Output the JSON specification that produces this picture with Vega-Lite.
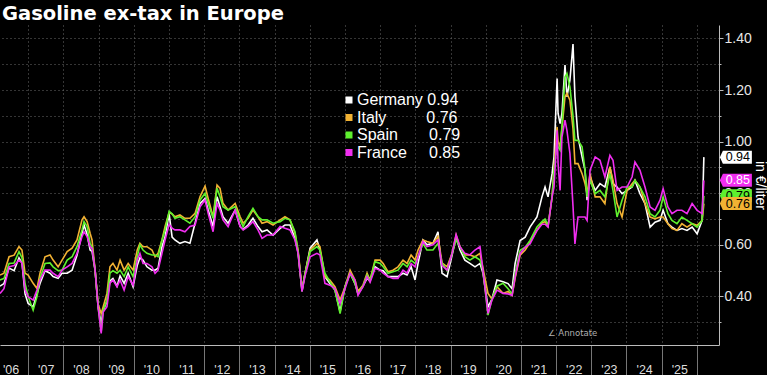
{
  "$schema": "https://vega.github.io/schema/vega-lite/v6.json",
  "width": 719,
  "height": 320,
  "autosize": {"type": "none"},
  "padding": {"left": 0, "top": 25, "right": 48, "bottom": 30},
  "background": "#000000",
  "title": {"text": "Gasoline ex-tax in Europe", "anchor": "start", "frame": "group", "color": "#ffffff", "font": "DejaVu Sans", "fontSize": 19.5, "fontWeight": "bold", "offset": 1, "dx": 2},
  "datasets": {
    "prices": [
      {"date":"2006-03-15","Germany":0.44,"Italy":0.483,"Spain":0.464,"France":0.412},
      {"date":"2006-04-25","Germany":0.45,"Italy":0.49,"Spain":0.47,"France":0.43},
      {"date":"2006-06-17","Germany":0.51,"Italy":0.554,"Spain":0.528,"France":0.515},
      {"date":"2006-08-08","Germany":0.50,"Italy":0.56,"Spain":0.53,"France":0.52},
      {"date":"2006-09-28","Germany":0.55,"Italy":0.593,"Spain":0.574,"France":0.541},
      {"date":"2006-10-29","Germany":0.53,"Italy":0.58,"Spain":0.55,"France":0.53},
      {"date":"2006-11-30","Germany":0.41,"Italy":0.49,"Spain":0.451,"France":0.425},
      {"date":"2007-01-01","Germany":0.373,"Italy":0.483,"Spain":0.40,"France":0.399},
      {"date":"2007-02-22","Germany":0.36,"Italy":0.451,"Spain":0.347,"France":0.386},
      {"date":"2007-04-03","Germany":0.41,"Italy":0.431,"Spain":0.40,"France":0.425},
      {"date":"2007-05-04","Germany":0.45,"Italy":0.49,"Spain":0.47,"France":0.464},
      {"date":"2007-06-25","Germany":0.50,"Italy":0.554,"Spain":0.528,"France":0.502},
      {"date":"2007-08-16","Germany":0.49,"Italy":0.561,"Spain":0.53,"France":0.502},
      {"date":"2007-09-17","Germany":0.477,"Italy":0.541,"Spain":0.515,"France":0.49},
      {"date":"2007-11-08","Germany":0.47,"Italy":0.515,"Spain":0.50,"France":0.477},
      {"date":"2007-12-19","Germany":0.49,"Italy":0.541,"Spain":0.502,"France":0.502},
      {"date":"2008-02-10","Germany":0.49,"Italy":0.574,"Spain":0.541,"France":0.515},
      {"date":"2008-04-01","Germany":0.502,"Italy":0.587,"Spain":0.554,"France":0.528},
      {"date":"2008-05-22","Germany":0.56,"Italy":0.619,"Spain":0.593,"France":0.567},
      {"date":"2008-07-13","Germany":0.645,"Italy":0.697,"Spain":0.658,"France":0.632},
      {"date":"2008-08-03","Germany":0.677,"Italy":0.709,"Spain":0.69,"France":0.651},
      {"date":"2008-09-04","Germany":0.64,"Italy":0.69,"Spain":0.671,"France":0.632},
      {"date":"2008-10-05","Germany":0.58,"Italy":0.645,"Spain":0.606,"France":0.593},
      {"date":"2008-10-25","Germany":0.575,"Italy":0.619,"Spain":0.593,"France":0.587},
      {"date":"2008-11-26","Germany":0.50,"Italy":0.502,"Spain":0.502,"France":0.502},
      {"date":"2008-12-27","Germany":0.36,"Italy":0.37,"Spain":0.36,"France":0.36},
      {"date":"2009-01-28","Germany":0.295,"Italy":0.334,"Spain":0.263,"France":0.257},
      {"date":"2009-02-18","Germany":0.347,"Italy":0.36,"Spain":0.347,"France":0.34},
      {"date":"2009-03-29","Germany":0.38,"Italy":0.412,"Spain":0.386,"France":0.36},
      {"date":"2009-04-29","Germany":0.46,"Italy":0.515,"Spain":0.49,"France":0.451},
      {"date":"2009-05-30","Germany":0.47,"Italy":0.528,"Spain":0.50,"France":0.464},
      {"date":"2009-07-11","Germany":0.44,"Italy":0.502,"Spain":0.49,"France":0.438},
      {"date":"2009-08-12","Germany":0.48,"Italy":0.541,"Spain":0.502,"France":0.464},
      {"date":"2009-09-23","Germany":0.451,"Italy":0.502,"Spain":0.477,"France":0.425},
      {"date":"2009-11-04","Germany":0.49,"Italy":0.528,"Spain":0.515,"France":0.477},
      {"date":"2009-12-25","Germany":0.438,"Italy":0.502,"Spain":0.477,"France":0.444},
      {"date":"2010-02-06","Germany":0.52,"Italy":0.58,"Spain":0.554,"France":0.541},
      {"date":"2010-03-06","Germany":0.55,"Italy":0.606,"Spain":0.60,"France":0.567},
      {"date":"2010-04-07","Germany":0.541,"Italy":0.593,"Spain":0.58,"France":0.528},
      {"date":"2010-05-18","Germany":0.515,"Italy":0.593,"Spain":0.567,"France":0.528},
      {"date":"2010-07-09","Germany":0.502,"Italy":0.58,"Spain":0.561,"France":0.515},
      {"date":"2010-08-10","Germany":0.502,"Italy":0.554,"Spain":0.561,"France":0.49},
      {"date":"2010-09-10","Germany":0.51,"Italy":0.567,"Spain":0.554,"France":0.502},
      {"date":"2010-10-21","Germany":0.593,"Italy":0.619,"Spain":0.619,"France":0.567},
      {"date":"2010-11-22","Germany":0.632,"Italy":0.671,"Spain":0.658,"France":0.619},
      {"date":"2011-01-03","Germany":0.72,"Italy":0.725,"Spain":0.73,"France":0.68},
      {"date":"2011-02-03","Germany":0.63,"Italy":0.72,"Spain":0.72,"France":0.665},
      {"date":"2011-03-04","Germany":0.619,"Italy":0.709,"Spain":0.703,"France":0.658},
      {"date":"2011-04-25","Germany":0.606,"Italy":0.716,"Spain":0.709,"France":0.658},
      {"date":"2011-06-16","Germany":0.613,"Italy":0.703,"Spain":0.697,"France":0.651},
      {"date":"2011-08-07","Germany":0.606,"Italy":0.703,"Spain":0.684,"France":0.671},
      {"date":"2011-09-29","Germany":0.684,"Italy":0.722,"Spain":0.709,"France":0.677},
      {"date":"2011-11-20","Germany":0.761,"Italy":0.787,"Spain":0.774,"France":0.748},
      {"date":"2012-01-11","Germany":0.78,"Italy":0.828,"Spain":0.80,"France":0.774},
      {"date":"2012-02-12","Germany":0.735,"Italy":0.78,"Spain":0.761,"France":0.722},
      {"date":"2012-04-03","Germany":0.671,"Italy":0.709,"Spain":0.703,"France":0.651},
      {"date":"2012-05-14","Germany":0.787,"Italy":0.832,"Spain":0.819,"France":0.761},
      {"date":"2012-06-14","Germany":0.748,"Italy":0.819,"Spain":0.787,"France":0.735},
      {"date":"2012-07-15","Germany":0.709,"Italy":0.761,"Spain":0.748,"France":0.697},
      {"date":"2012-09-06","Germany":0.684,"Italy":0.735,"Spain":0.735,"France":0.671},
      {"date":"2012-11-18","Germany":0.735,"Italy":0.761,"Spain":0.748,"France":0.735},
      {"date":"2013-01-09","Germany":0.671,"Italy":0.709,"Spain":0.697,"France":0.671},
      {"date":"2013-02-09","Germany":0.66,"Italy":0.684,"Spain":0.671,"France":0.658},
      {"date":"2013-04-01","Germany":0.677,"Italy":0.703,"Spain":0.709,"France":0.671},
      {"date":"2013-05-22","Germany":0.703,"Italy":0.735,"Spain":0.742,"France":0.69},
      {"date":"2013-07-13","Germany":0.671,"Italy":0.709,"Spain":0.709,"France":0.658},
      {"date":"2013-08-24","Germany":0.651,"Italy":0.684,"Spain":0.697,"France":0.625},
      {"date":"2013-10-15","Germany":0.658,"Italy":0.69,"Spain":0.697,"France":0.638},
      {"date":"2013-12-16","Germany":0.638,"Italy":0.677,"Spain":0.684,"France":0.638},
      {"date":"2014-02-28","Germany":0.664,"Italy":0.697,"Spain":0.69,"France":0.671},
      {"date":"2014-04-19","Germany":0.677,"Italy":0.709,"Spain":0.703,"France":0.664},
      {"date":"2014-06-10","Germany":0.677,"Italy":0.697,"Spain":0.697,"France":0.658},
      {"date":"2014-08-01","Germany":0.625,"Italy":0.645,"Spain":0.651,"France":0.619},
      {"date":"2014-09-02","Germany":0.57,"Italy":0.58,"Spain":0.574,"France":0.567},
      {"date":"2014-10-13","Germany":0.42,"Italy":0.43,"Spain":0.425,"France":0.42},
      {"date":"2014-11-14","Germany":0.49,"Italy":0.49,"Spain":0.49,"France":0.48},
      {"date":"2015-01-05","Germany":0.587,"Italy":0.58,"Spain":0.574,"France":0.554},
      {"date":"2015-03-17","Germany":0.619,"Italy":0.606,"Spain":0.593,"France":0.567},
      {"date":"2015-04-17","Germany":0.58,"Italy":0.593,"Spain":0.58,"France":0.561},
      {"date":"2015-06-08","Germany":0.477,"Italy":0.477,"Spain":0.49,"France":0.451},
      {"date":"2015-07-29","Germany":0.45,"Italy":0.464,"Spain":0.457,"France":0.444},
      {"date":"2015-09-20","Germany":0.425,"Italy":0.438,"Spain":0.425,"France":0.431},
      {"date":"2015-11-12","Germany":0.341,"Italy":0.386,"Spain":0.334,"France":0.373},
      {"date":"2016-01-03","Germany":0.44,"Italy":0.438,"Spain":0.438,"France":0.431},
      {"date":"2016-02-24","Germany":0.49,"Italy":0.502,"Spain":0.49,"France":0.49},
      {"date":"2016-04-15","Germany":0.45,"Italy":0.464,"Spain":0.451,"France":0.464},
      {"date":"2016-05-16","Germany":0.41,"Italy":0.42,"Spain":0.41,"France":0.405},
      {"date":"2016-07-07","Germany":0.44,"Italy":0.444,"Spain":0.44,"France":0.438},
      {"date":"2016-08-18","Germany":0.47,"Italy":0.49,"Spain":0.483,"France":0.477},
      {"date":"2016-09-18","Germany":0.46,"Italy":0.464,"Spain":0.46,"France":0.455},
      {"date":"2016-11-09","Germany":0.515,"Italy":0.541,"Spain":0.535,"France":0.509},
      {"date":"2017-01-01","Germany":0.502,"Italy":0.541,"Spain":0.528,"France":0.502},
      {"date":"2017-02-01","Germany":0.50,"Italy":0.528,"Spain":0.515,"France":0.49},
      {"date":"2017-03-23","Germany":0.477,"Italy":0.496,"Spain":0.49,"France":0.477},
      {"date":"2017-05-14","Germany":0.477,"Italy":0.502,"Spain":0.496,"France":0.47},
      {"date":"2017-07-05","Germany":0.477,"Italy":0.515,"Spain":0.502,"France":0.47},
      {"date":"2017-08-26","Germany":0.49,"Italy":0.541,"Spain":0.528,"France":0.502},
      {"date":"2017-10-07","Germany":0.483,"Italy":0.528,"Spain":0.515,"France":0.49},
      {"date":"2017-11-18","Germany":0.515,"Italy":0.561,"Spain":0.541,"France":0.528},
      {"date":"2017-12-29","Germany":0.464,"Italy":0.541,"Spain":0.528,"France":0.515},
      {"date":"2018-01-29","Germany":0.528,"Italy":0.58,"Spain":0.554,"France":0.554},
      {"date":"2018-03-21","Germany":0.619,"Italy":0.619,"Spain":0.606,"France":0.613},
      {"date":"2018-05-01","Germany":0.60,"Italy":0.613,"Spain":0.58,"France":0.593},
      {"date":"2018-07-03","Germany":0.606,"Italy":0.606,"Spain":0.58,"France":0.60},
      {"date":"2018-08-24","Germany":0.651,"Italy":0.632,"Spain":0.606,"France":0.619},
      {"date":"2018-10-05","Germany":0.49,"Italy":0.53,"Spain":0.53,"France":0.52},
      {"date":"2018-11-26","Germany":0.477,"Italy":0.515,"Spain":0.50,"France":0.502},
      {"date":"2019-01-17","Germany":0.56,"Italy":0.567,"Spain":0.567,"France":0.567},
      {"date":"2019-02-28","Germany":0.63,"Italy":0.638,"Spain":0.619,"France":0.64},
      {"date":"2019-04-09","Germany":0.58,"Italy":0.593,"Spain":0.593,"France":0.593},
      {"date":"2019-05-30","Germany":0.541,"Italy":0.561,"Spain":0.554,"France":0.567},
      {"date":"2019-07-21","Germany":0.528,"Italy":0.561,"Spain":0.541,"France":0.561},
      {"date":"2019-09-12","Germany":0.515,"Italy":0.554,"Spain":0.554,"France":0.58},
      {"date":"2019-11-03","Germany":0.528,"Italy":0.567,"Spain":0.541,"France":0.593},
      {"date":"2019-12-04","Germany":0.49,"Italy":0.51,"Spain":0.50,"France":0.50},
      {"date":"2020-01-25","Germany":0.36,"Italy":0.412,"Spain":0.328,"France":0.334},
      {"date":"2020-03-06","Germany":0.39,"Italy":0.39,"Spain":0.39,"France":0.386},
      {"date":"2020-04-27","Germany":0.464,"Italy":0.438,"Spain":0.44,"France":0.425},
      {"date":"2020-06-29","Germany":0.457,"Italy":0.412,"Spain":0.451,"France":0.412},
      {"date":"2020-08-20","Germany":0.45,"Italy":0.42,"Spain":0.43,"France":0.41},
      {"date":"2020-10-01","Germany":0.43,"Italy":0.404,"Spain":0.41,"France":0.404},
      {"date":"2020-11-01","Germany":0.527,"Italy":0.47,"Spain":0.488,"France":0.475},
      {"date":"2020-12-23","Germany":0.617,"Italy":0.56,"Spain":0.579,"France":0.566},
      {"date":"2021-02-14","Germany":0.63,"Italy":0.58,"Spain":0.591,"France":0.591},
      {"date":"2021-04-05","Germany":0.669,"Italy":0.61,"Spain":0.617,"France":0.604},
      {"date":"2021-06-16","Germany":0.708,"Italy":0.656,"Spain":0.669,"France":0.656},
      {"date":"2021-08-07","Germany":0.786,"Italy":0.685,"Spain":0.69,"France":0.68},
      {"date":"2021-09-08","Germany":0.824,"Italy":0.69,"Spain":0.70,"France":0.68},
      {"date":"2021-10-09","Germany":0.786,"Italy":0.672,"Spain":0.676,"France":0.669},
      {"date":"2021-11-20","Germany":0.876,"Italy":0.786,"Spain":0.786,"France":0.786},
      {"date":"2021-12-10","Germany":0.941,"Italy":0.90,"Spain":0.889,"France":0.824},
      {"date":"2022-01-11","Germany":1.245,"Italy":1.057,"Spain":1.005,"France":1.044},
      {"date":"2022-01-21","Germany":1.109,"Italy":1.0,"Spain":0.98,"France":0.915},
      {"date":"2022-02-11","Germany":1.07,"Italy":0.98,"Spain":0.967,"France":0.811},
      {"date":"2022-03-02","Germany":1.109,"Italy":1.05,"Spain":1.057,"France":1.018},
      {"date":"2022-04-03","Germany":1.297,"Italy":1.174,"Spain":1.251,"France":1.083},
      {"date":"2022-04-23","Germany":1.174,"Italy":1.187,"Spain":1.264,"France":1.044},
      {"date":"2022-05-24","Germany":1.238,"Italy":1.161,"Spain":1.212,"France":0.954},
      {"date":"2022-06-25","Germany":1.378,"Italy":1.05,"Spain":1.10,"France":0.75},
      {"date":"2022-07-15","Germany":1.174,"Italy":0.915,"Spain":1.005,"France":0.604},
      {"date":"2022-08-16","Germany":1.018,"Italy":0.915,"Spain":1.005,"France":0.708},
      {"date":"2022-09-27","Germany":0.941,"Italy":0.876,"Spain":0.98,"France":0.708},
      {"date":"2022-10-28","Germany":0.889,"Italy":0.837,"Spain":0.889,"France":0.708},
      {"date":"2022-11-18","Germany":0.773,"Italy":0.80,"Spain":0.786,"France":0.695},
      {"date":"2022-12-19","Germany":0.863,"Italy":0.876,"Spain":0.85,"France":0.889},
      {"date":"2023-02-10","Germany":0.811,"Italy":0.786,"Spain":0.798,"France":0.941},
      {"date":"2023-04-01","Germany":0.837,"Italy":0.786,"Spain":0.811,"France":0.928},
      {"date":"2023-05-22","Germany":0.824,"Italy":0.76,"Spain":0.786,"France":0.863},
      {"date":"2023-07-13","Germany":0.902,"Italy":0.902,"Spain":0.876,"France":0.947},
      {"date":"2023-08-14","Germany":0.837,"Italy":0.85,"Spain":0.811,"France":0.928},
      {"date":"2023-09-25","Germany":0.824,"Italy":0.76,"Spain":0.708,"France":0.811},
      {"date":"2023-11-16","Germany":0.798,"Italy":0.708,"Spain":0.773,"France":0.824},
      {"date":"2024-01-07","Germany":0.811,"Italy":0.811,"Spain":0.824,"France":0.824},
      {"date":"2024-02-28","Germany":0.824,"Italy":0.837,"Spain":0.824,"France":0.863},
      {"date":"2024-03-29","Germany":0.85,"Italy":0.85,"Spain":0.85,"France":0.921},
      {"date":"2024-05-20","Germany":0.798,"Italy":0.824,"Spain":0.824,"France":0.889},
      {"date":"2024-07-11","Germany":0.76,"Italy":0.76,"Spain":0.786,"France":0.824},
      {"date":"2024-09-02","Germany":0.669,"Italy":0.708,"Spain":0.721,"France":0.747},
      {"date":"2024-10-23","Germany":0.688,"Italy":0.701,"Spain":0.708,"France":0.734},
      {"date":"2024-12-14","Germany":0.695,"Italy":0.708,"Spain":0.734,"France":0.773},
      {"date":"2025-01-15","Germany":0.734,"Italy":0.708,"Spain":0.786,"France":0.818},
      {"date":"2025-03-06","Germany":0.682,"Italy":0.682,"Spain":0.721,"France":0.747},
      {"date":"2025-04-17","Germany":0.669,"Italy":0.663,"Spain":0.695,"France":0.721},
      {"date":"2025-06-08","Germany":0.656,"Italy":0.656,"Spain":0.682,"France":0.734},
      {"date":"2025-07-29","Germany":0.663,"Italy":0.682,"Spain":0.708,"France":0.734},
      {"date":"2025-09-20","Germany":0.656,"Italy":0.669,"Spain":0.695,"France":0.721},
      {"date":"2025-11-12","Germany":0.669,"Italy":0.682,"Spain":0.682,"France":0.76},
      {"date":"2026-01-03","Germany":0.643,"Italy":0.676,"Spain":0.669,"France":0.734},
      {"date":"2026-02-24","Germany":0.695,"Italy":0.695,"Spain":0.695,"France":0.721},
      {"date":"2026-03-14","Germany":0.94,"Italy":0.76,"Spain":0.79,"France":0.85}
    ],
    "latest": [
      {"date":"2026-03-14","country":"Germany","value":0.94},
      {"date":"2026-03-14","country":"Spain","value":0.79},
      {"date":"2026-03-14","country":"France","value":0.85},
      {"date":"2026-03-14","country":"Italy","value":0.76}
    ],
    "notes": [
      {"date":"2021-10-09","value":0.26,"note":"∠  Annotate"}
    ]
  },
  "encoding": {
    "x": {
      "field": "date", "type": "temporal",
      "scale": {"domain": [{"year": 2006, "month": 3, "date": 15}, {"year": 2026, "month": 8, "date": 18}], "nice": false},
      "axis": {
        "title": null,
        "tickCount": {"interval": "year", "step": 1},
        "labelExpr": "\"'\" + substring(toString(year(datum.value) - 1), 2)",
        "labelOffset": -17.6,
        "labelAlign": "center",
        "labelBaseline": "top",
        "labelFlush": false,
        "labelOverlap": false,
        "labelSeparation": 0,
        "labelBound": false,
        "labelPadding": -12,
        "labelColor": "#dddddd",
        "labelFont": "Liberation Sans",
        "labelFontSize": 12.5,
        "ticks": true,
        "tickSize": 30,
        "tickColor": "#777777",
        "tickWidth": 1,
        "domainColor": "#bbbbbb",
        "domainWidth": 1,
        "grid": true,
        "gridColor": "#6a6a6a",
        "gridDash": [1, 3],
        "gridWidth": 1
      }
    },
    "y": {
      "field": "value", "type": "quantitative",
      "scale": {"domain": [0.212, 1.452], "nice": false, "zero": false},
      "axis": {
        "orient": "right",
        "title": "in €/liter",
        "titleColor": "#ffffff",
        "titleFont": "Liberation Sans",
        "titleFontSize": 14,
        "titleFontWeight": "normal",
        "titlePadding": 1,
        "values": [0.3, 0.4, 0.5, 0.6, 0.7, 0.8, 0.9, 1.0, 1.1, 1.2, 1.3, 1.4],
        "labelExpr": "round(datum.value * 10) % 2 == 0 ? format(datum.value, '.2f') : ''",
        "labelOverlap": false,
        "labelColor": "#e6e6e6",
        "labelFont": "Liberation Sans",
        "labelFontSize": 14,
        "labelPadding": 1,
        "tickSize": {"condition": {"test": "round(datum.value * 10) % 2 == 0", "value": 4}, "value": 2},
        "tickColor": "#bbbbbb",
        "domainColor": "#bbbbbb",
        "grid": true,
        "gridColor": "#6a6a6a",
        "gridDash": [1, 3],
        "gridWidth": 1
      }
    },
    "color": {
      "field": "country", "type": "nominal",
      "scale": {"domain": ["Germany", "Italy", "Spain", "France"], "range": ["#ffffff", "#f2b233", "#5ef02e", "#f02ef0"]},
      "legend": {
        "orient": "none",
        "legendX": 341,
        "legendY": 67,
        "title": null,
        "direction": "vertical",
        "padding": 0,
        "labelColor": "#ffffff",
        "labelFont": "Liberation Sans",
        "labelFontSize": 16,
        "labelLimit": 300,
        "labelOffset": 0,
        "rowPadding": 1.5,
        "symbolType": "square",
        "symbolSize": 49,
        "symbolStrokeWidth": 0,
        "labelExpr": "datum.label == 'Germany' ? 'Germany\u00a00.94' : datum.label == 'Italy' ? 'Italy\u00a0\u00a0\u00a0\u00a0\u00a0\u00a0\u00a0\u00a0\u00a00.76' : datum.label == 'Spain' ? 'Spain\u00a0\u00a0\u00a0\u00a0\u00a0\u00a0\u00a00.79' : 'France\u00a0\u00a0\u00a0\u00a0\u00a00.85'",
        "encode": {"symbols": {"update": {"fill": {"scale": "color", "field": "value"}, "fillOpacity": {"value": 1}, "strokeWidth": {"value": 0}}}}
      }
    }
  },
  "layer": [
    {
      "data": {"name": "prices"},
      "transform": [{"fold": ["Germany", "Italy", "Spain", "France"], "as": ["country", "value"]}],
      "mark": {"type": "line", "strokeWidth": 1.6, "clip": true}
    },
    {
      "data": {"name": "latest"},
      "transform": [{"filter": "datum.country != 'Italy'"}],
      "mark": {"type": "point", "filled": true, "opacity": 1, "strokeWidth": 0, "size": 64, "clip": false, "shape": "M 4 0 L 4.75 -1.625 L 12 -1.625 L 12 1.625 L 4.75 1.625 Z"}
    },
    {
      "data": {"name": "latest"},
      "transform": [{"filter": "datum.country != 'Italy'"}],
      "mark": {"type": "text", "dx": 34, "align": "center", "baseline": "middle", "font": "Liberation Sans", "fontSize": 12.5, "clip": false},
      "encoding": {
        "text": {"field": "value", "type": "quantitative", "format": ".2f"},
        "color": {"condition": {"test": "datum.country == 'France'", "value": "#ffffff"}, "value": "#000000"}
      }
    },
    {
      "data": {"name": "latest"},
      "transform": [{"filter": "datum.country == 'Italy'"}],
      "mark": {"type": "point", "filled": true, "opacity": 1, "strokeWidth": 0, "size": 64, "clip": false, "shape": "M 4 0 L 4.75 -1.625 L 12 -1.625 L 12 1.625 L 4.75 1.625 Z"}
    },
    {
      "data": {"name": "latest"},
      "transform": [{"filter": "datum.country == 'Italy'"}],
      "mark": {"type": "text", "dx": 34, "align": "center", "baseline": "middle", "font": "Liberation Sans", "fontSize": 12.5, "clip": false},
      "encoding": {
        "text": {"field": "value", "type": "quantitative", "format": ".2f"},
        "color": {"value": "#000000"}
      }
    },
    {
      "data": {"name": "notes"},
      "mark": {"type": "text", "align": "left", "baseline": "middle", "font": "DejaVu Sans", "fontSize": 8.5},
      "encoding": {
        "text": {"field": "note"},
        "color": {"value": "#b0b0b0"}
      }
    }
  ],
  "config": {
    "view": {"stroke": null},
    "font": "Liberation Sans"
  }
}
